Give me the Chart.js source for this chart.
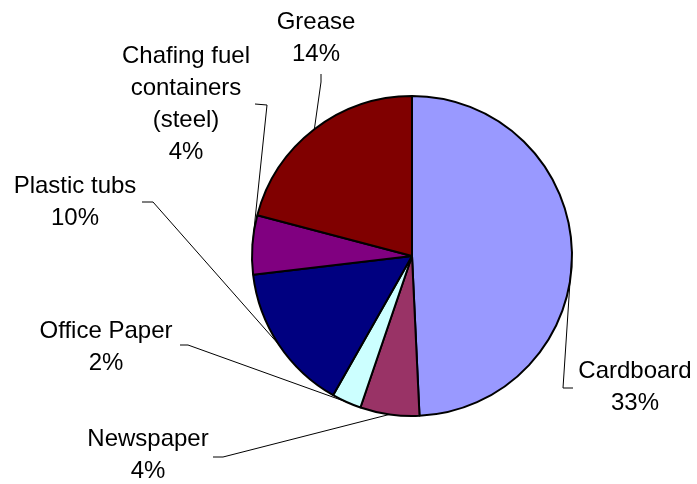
<!DOCTYPE html>
<html>
<head>
<meta charset="utf-8">
<script src="https://cdn.jsdelivr.net/npm/chart.js@4/dist/chart.umd.min.js"></script>
<style>
	html, body { margin: 0; padding: 0; background: #fff; }
	#wrap { width: 697px; height: 484px; }
</style>
</head>
<body>
<div id="wrap"><canvas id="pie" width="697" height="484"></canvas></div>
<script>
// waste stream shares, percent
var categories = [
	"Cardboard",
	"Newspaper",
	"Office Paper",
	"Plastic tubs",
	["Chafing fuel", "containers", "(steel)"],
	"Grease",
];
var shares = [33, 4, 2, 10, 4, 14];
var sliceColors = ["#9999ff", "#993366", "#ccffff", "#000080", "#800080", "#800000"];

// where each label sits: centre x, first baseline y, and the short stub of its leader line
var labelLayout = [
	{ x: 635, y: 378, stub: [573, 388, 563, 388] },
	{ x: 148, y: 446, stub: [213, 457, 223, 457] },
	{ x: 106, y: 338, stub: [180, 345, 188, 345] },
	{ x: 75,  y: 193, stub: [142, 202, 153, 202] },
	{ x: 186, y: 63,  stub: [255, 104, 267, 105] },
	{ x: 316, y: 29,  stub: [321, 74, 321, 82] },
];
var LINE_GAP = 32;

var sliceLabels = {
	id: "sliceLabels",
	afterDatasetsDraw: function(chart) {
		var ctx = chart.ctx;
		var arcs = chart.getDatasetMeta(0).data;

		ctx.save();
		ctx.font = '24px "Liberation Sans", Arial, sans-serif';
		ctx.fillStyle = "#000";
		ctx.strokeStyle = "#000";
		ctx.lineWidth = 1;
		ctx.textAlign = "center";
		ctx.textBaseline = "alphabetic";

		for(var i = 0; i < arcs.length; i++) {
			var p = arcs[i].getProps(["x", "y", "startAngle", "endAngle", "outerRadius"], true);
			var mid = (p.startAngle + p.endAngle) / 2;
			var ax = p.x + Math.cos(mid) * p.outerRadius;
			var ay = p.y + Math.sin(mid) * p.outerRadius;
			var lay = labelLayout[i];

			// leader line: stub, then on to the middle of the slice edge
			ctx.beginPath();
			ctx.moveTo(lay.stub[0], lay.stub[1]);
			ctx.lineTo(lay.stub[2], lay.stub[3]);
			ctx.lineTo(ax, ay);
			ctx.stroke();

			var name = categories[i];
			var lines = (Array.isArray(name) ? name : [name]).concat([shares[i] + "%"]);

			for(var k = 0; k < lines.length; k++) {
				ctx.fillText(lines[k], lay.x, lay.y + k * LINE_GAP);
			}
		}
		ctx.restore();
	}
};

new Chart(document.getElementById("pie").getContext("2d"), {
	type: "pie",
	data: {
		labels: categories,
		datasets: [
			{
				data: shares,
				backgroundColor: sliceColors,
				borderColor: "#000",
				borderWidth: 2,
			}
		]
	},
	options: {
		responsive: false,
		animation: false,
		layout: { padding: { left: 251, right: 124, top: 95, bottom: 67 } },
		plugins: {
			legend: { display: false },
			tooltip: { enabled: false },
		},
	},
	plugins: [sliceLabels]
});
</script>
</body>
</html>
